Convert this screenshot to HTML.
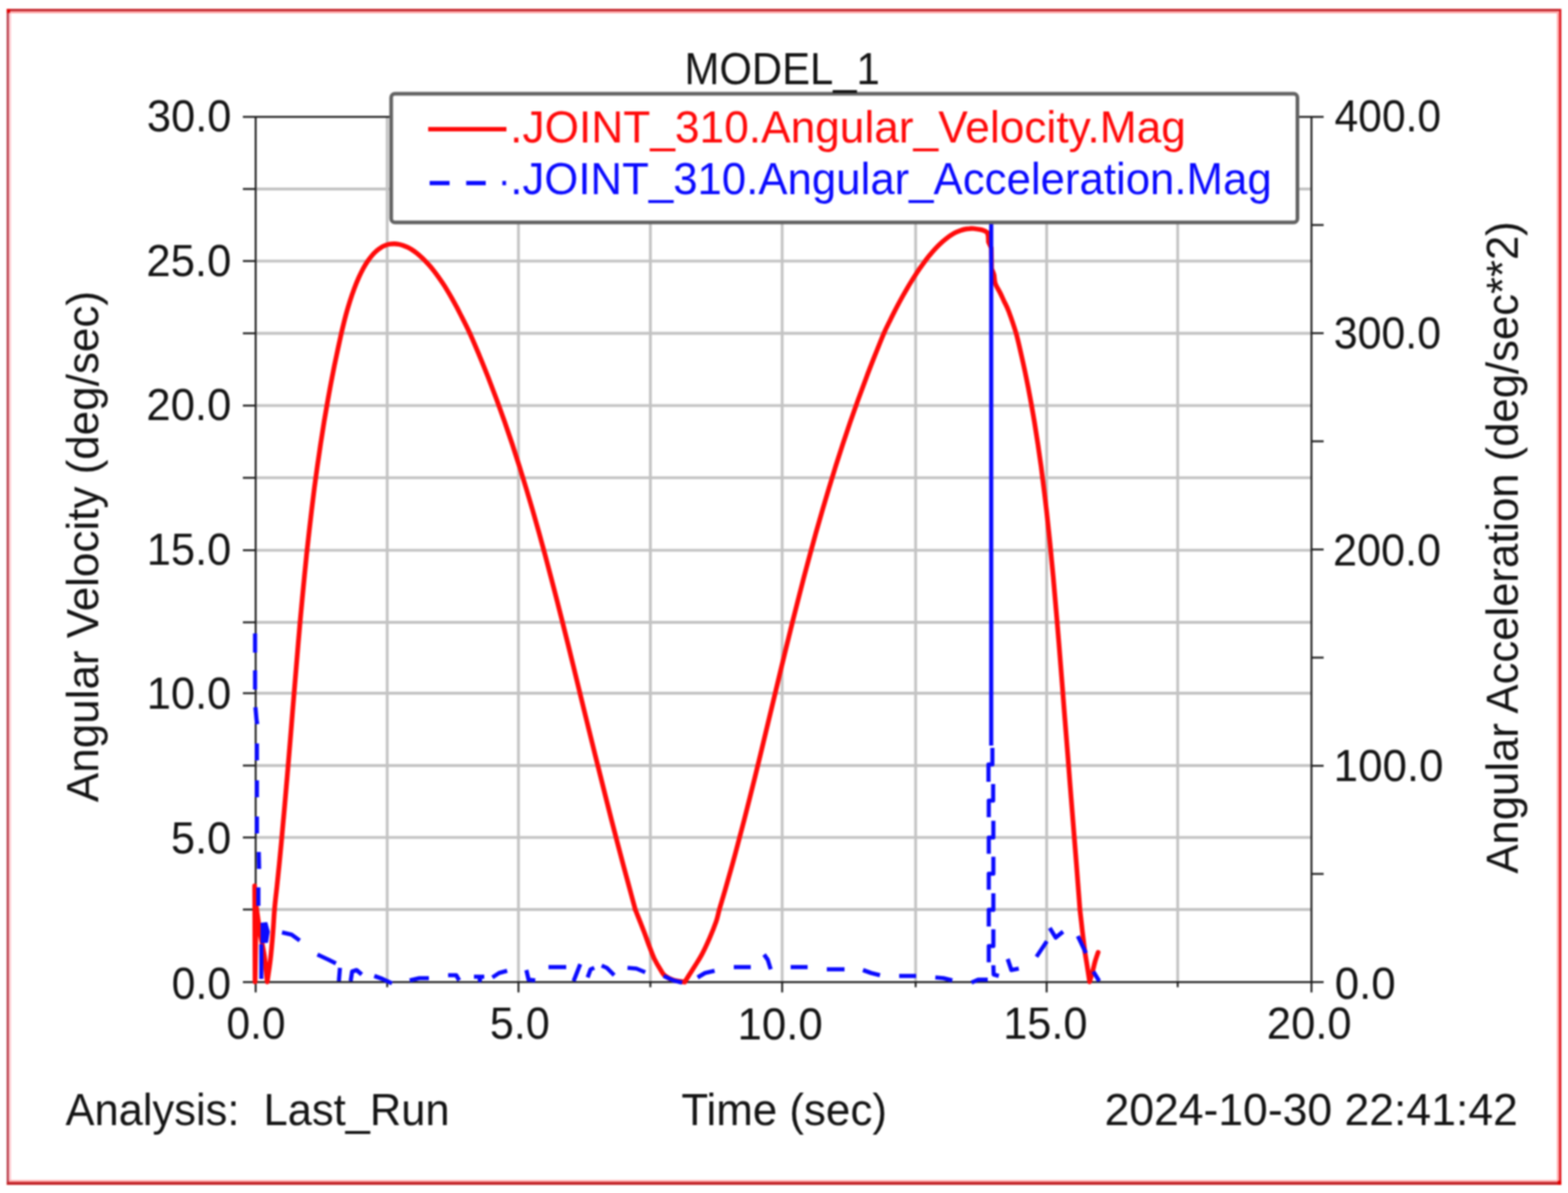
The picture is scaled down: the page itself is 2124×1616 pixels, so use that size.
<!DOCTYPE html>
<html><head><meta charset="utf-8"><title>MODEL_1</title><style>
html,body{margin:0;padding:0;background:#fff;width:2124px;height:1616px;overflow:hidden;}
svg{display:block;position:absolute;left:0;top:0;filter:blur(0.8px);}
text{font-family:"Liberation Sans",Arial,Helvetica,sans-serif;font-size:61px;white-space:pre;}
</style></head><body>
<svg width="2124" height="1616" viewBox="0 0 2124 1616">
<rect x="0" y="0" width="2124" height="1616" fill="#ffffff"/>
<g fill="none">
<line x1="9" y1="13.7" x2="2115" y2="13.7" stroke="#c22228" stroke-width="3.4"/>
<line x1="10.5" y1="12" x2="10.5" y2="1605" stroke="#bb4450" stroke-width="3"/>
<line x1="2113.5" y1="12" x2="2113.5" y2="1605" stroke="#de1820" stroke-width="3"/>
<line x1="9" y1="1603" x2="2115" y2="1603" stroke="#c2262a" stroke-width="4"/>
<line x1="12" y1="16.7" x2="2112" y2="16.7" stroke="#ffa8a8" stroke-width="2.6"/>
<line x1="13.5" y1="15.4" x2="13.5" y2="1601" stroke="#ffccd2" stroke-width="3"/>
<line x1="2110.5" y1="15.4" x2="2110.5" y2="1601" stroke="#ffa8a8" stroke-width="3"/>
<line x1="12" y1="1599.8" x2="2112" y2="1599.8" stroke="#ffa8a8" stroke-width="2.4"/>
</g>
<rect x="9" y="12" width="5" height="5.5" fill="#e00808"/>
<rect x="2110" y="1599.5" width="5" height="5.5" fill="#e80000"/>
<g stroke="#c3c3c3" stroke-width="3.8" fill="none">
<line x1="524.5" y1="158.3" x2="524.5" y2="1330.3"/>
<line x1="702.3" y1="158.3" x2="702.3" y2="1330.3"/>
<line x1="881.0" y1="158.3" x2="881.0" y2="1330.3"/>
<line x1="1059.5" y1="158.3" x2="1059.5" y2="1330.3"/>
<line x1="1240.3" y1="158.3" x2="1240.3" y2="1330.3"/>
<line x1="1417.8" y1="158.3" x2="1417.8" y2="1330.3"/>
<line x1="1595.3" y1="158.3" x2="1595.3" y2="1330.3"/>
<line x1="346.3" y1="256.0" x2="1776.5" y2="256.0"/>
<line x1="346.3" y1="353.6" x2="1776.5" y2="353.6"/>
<line x1="346.3" y1="451.5" x2="1776.5" y2="451.5"/>
<line x1="346.3" y1="549.4" x2="1776.5" y2="549.4"/>
<line x1="346.3" y1="647.2" x2="1776.5" y2="647.2"/>
<line x1="346.3" y1="745.3" x2="1776.5" y2="745.3"/>
<line x1="346.3" y1="843.0" x2="1776.5" y2="843.0"/>
<line x1="346.3" y1="939.0" x2="1776.5" y2="939.0"/>
<line x1="346.3" y1="1037.0" x2="1776.5" y2="1037.0"/>
<line x1="346.3" y1="1134.4" x2="1776.5" y2="1134.4"/>
<line x1="346.3" y1="1232.0" x2="1776.5" y2="1232.0"/>
</g>
<g stroke="#1e1e1e" stroke-width="2.6" fill="none" stroke-linecap="butt">
<rect x="346.3" y="158.3" width="1430.2" height="1172.0"/>
<line x1="329" y1="158.3" x2="346.3" y2="158.3"/>
<line x1="329" y1="256.0" x2="346.3" y2="256.0"/>
<line x1="329" y1="353.6" x2="346.3" y2="353.6"/>
<line x1="329" y1="451.5" x2="346.3" y2="451.5"/>
<line x1="329" y1="549.4" x2="346.3" y2="549.4"/>
<line x1="329" y1="647.2" x2="346.3" y2="647.2"/>
<line x1="329" y1="745.3" x2="346.3" y2="745.3"/>
<line x1="329" y1="843.0" x2="346.3" y2="843.0"/>
<line x1="329" y1="939.0" x2="346.3" y2="939.0"/>
<line x1="329" y1="1037.0" x2="346.3" y2="1037.0"/>
<line x1="329" y1="1134.4" x2="346.3" y2="1134.4"/>
<line x1="329" y1="1232.0" x2="346.3" y2="1232.0"/>
<line x1="329" y1="1330.3" x2="346.3" y2="1330.3"/>
<line x1="1776.5" y1="1330.3" x2="1793" y2="1330.3"/>
<line x1="1776.5" y1="1183.8" x2="1793" y2="1183.8"/>
<line x1="1776.5" y1="1037.3" x2="1793" y2="1037.3"/>
<line x1="1776.5" y1="890.8" x2="1793" y2="890.8"/>
<line x1="1776.5" y1="744.3" x2="1793" y2="744.3"/>
<line x1="1776.5" y1="597.8" x2="1793" y2="597.8"/>
<line x1="1776.5" y1="451.3" x2="1793" y2="451.3"/>
<line x1="1776.5" y1="304.8" x2="1793" y2="304.8"/>
<line x1="1776.5" y1="158.3" x2="1793" y2="158.3"/>
<line x1="346.3" y1="1330.3" x2="346.3" y2="1344.3"/>
<line x1="524.5" y1="1330.3" x2="524.5" y2="1337.3"/>
<line x1="702.3" y1="1330.3" x2="702.3" y2="1344.3"/>
<line x1="881.0" y1="1330.3" x2="881.0" y2="1337.3"/>
<line x1="1059.5" y1="1330.3" x2="1059.5" y2="1344.3"/>
<line x1="1240.3" y1="1330.3" x2="1240.3" y2="1337.3"/>
<line x1="1417.8" y1="1330.3" x2="1417.8" y2="1344.3"/>
<line x1="1595.3" y1="1330.3" x2="1595.3" y2="1337.3"/>
<line x1="1776.5" y1="1330.3" x2="1776.5" y2="1344.3"/>
</g>
<path d="M345.0,1200.0 C345.1,1221.7 345.4,1308.3 345.5,1330.0 C345.8,1313.0 346.9,1245.0 347.2,1228.0 C348.0,1233.7 350.2,1251.0 352.0,1262.0 C353.8,1273.0 356.3,1282.7 358.0,1294.0 C359.7,1305.3 361.3,1324.0 362.0,1330.0 C362.8,1324.7 365.2,1309.3 366.5,1298.0 C367.8,1286.7 368.9,1273.1 369.8,1262.0 C370.7,1250.9 371.0,1241.5 371.9,1231.4 C372.7,1221.3 374.0,1211.4 375.1,1201.4 C376.1,1191.4 377.2,1181.4 378.2,1171.4 C379.2,1161.4 380.1,1151.4 381.1,1141.4 C382.0,1131.4 382.9,1121.4 383.8,1111.4 C384.8,1101.4 385.6,1091.4 386.5,1081.4 C387.4,1071.4 388.2,1061.4 389.1,1051.4 C389.9,1041.4 390.8,1031.4 391.6,1021.4 C392.4,1011.4 393.3,1001.4 394.1,991.4 C394.9,981.4 395.7,971.4 396.5,961.4 C397.3,951.4 398.2,941.4 399.0,931.4 C399.8,921.4 400.6,911.4 401.5,901.4 C402.3,891.4 403.2,881.4 404.0,871.4 C404.9,861.4 405.8,851.4 406.6,841.4 C407.5,831.4 408.5,821.4 409.4,811.4 C410.3,801.4 411.3,791.4 412.3,781.4 C413.3,771.4 414.3,761.4 415.3,751.4 C416.4,741.4 417.5,731.4 418.6,721.4 C419.7,711.4 420.9,701.4 422.1,691.4 C423.3,681.4 424.5,671.4 425.8,661.4 C427.1,651.4 428.5,641.4 429.9,631.4 C431.3,621.4 432.8,611.4 434.3,601.4 C435.8,591.4 437.4,581.4 439.0,571.4 C440.7,561.4 442.4,551.4 444.2,541.4 C446.0,531.4 447.8,521.4 449.8,511.4 C451.7,501.4 453.7,491.4 455.9,481.4 C458.0,471.4 460.4,460.2 462.4,451.4 C464.5,442.6 466.1,435.8 468.0,428.6 C469.9,421.3 472.0,414.4 474.0,408.0 C476.0,401.7 478.0,395.9 480.0,390.6 C482.0,385.2 484.0,380.4 486.0,375.9 C488.0,371.5 490.0,367.5 492.0,363.8 C494.0,360.1 496.0,356.8 498.0,353.9 C500.0,350.9 502.0,348.3 504.0,346.0 C506.0,343.6 508.0,341.6 510.0,339.9 C512.0,338.1 514.0,336.6 516.0,335.4 C518.0,334.1 520.0,333.2 522.0,332.4 C524.0,331.6 526.0,331.0 528.0,330.7 C530.0,330.3 532.0,330.2 534.0,330.2 C536.0,330.2 538.0,330.4 540.0,330.8 C542.0,331.1 544.0,331.7 546.0,332.4 C548.0,333.1 550.0,333.9 552.0,334.9 C554.0,335.9 556.0,337.0 558.0,338.3 C560.0,339.6 562.0,341.0 564.0,342.5 C566.0,344.1 568.0,345.8 570.0,347.6 C572.0,349.4 574.0,351.3 576.0,353.4 C578.0,355.4 580.0,357.6 582.0,359.9 C584.0,362.2 586.0,364.7 588.0,367.2 C590.0,369.8 592.0,372.5 594.0,375.3 C596.0,378.1 598.0,381.0 600.0,384.1 C602.0,387.1 604.0,390.3 606.0,393.6 C608.0,396.9 610.0,400.3 612.0,403.8 C614.0,407.3 616.0,411.0 618.0,414.8 C620.0,418.5 620.9,420.3 624.0,426.4 C627.1,432.5 632.2,442.2 636.4,451.4 C640.6,460.6 645.1,471.4 649.3,481.4 C653.5,491.4 657.5,501.4 661.4,511.4 C665.3,521.4 669.1,531.4 672.8,541.4 C676.5,551.4 680.1,561.4 683.6,571.4 C687.1,581.4 690.5,591.4 693.8,601.4 C697.1,611.4 700.3,621.4 703.5,631.4 C706.6,641.4 709.7,651.4 712.7,661.4 C715.7,671.4 718.7,681.4 721.6,691.4 C724.5,701.4 727.3,711.4 730.1,721.4 C732.8,731.4 735.6,741.4 738.3,751.4 C741.0,761.4 743.6,771.4 746.2,781.4 C748.8,791.4 751.4,801.4 754.0,811.4 C756.5,821.4 759.1,831.4 761.6,841.4 C764.1,851.4 766.6,861.4 769.1,871.4 C771.5,881.4 774.0,891.4 776.5,901.4 C778.9,911.4 781.4,921.4 783.8,931.4 C786.3,941.4 788.7,951.4 791.1,961.4 C793.6,971.4 796.0,981.4 798.5,991.4 C801.0,1001.4 803.4,1011.4 805.9,1021.4 C808.4,1031.4 810.9,1041.4 813.4,1051.4 C815.9,1061.4 818.4,1071.4 820.9,1081.4 C823.4,1091.4 826.0,1101.4 828.5,1111.4 C831.1,1121.4 833.7,1131.4 836.3,1141.4 C838.9,1151.4 841.6,1161.4 844.2,1171.4 C846.9,1181.4 849.6,1191.4 852.3,1201.4 C855.0,1211.4 859.0,1226.3 860.4,1231.4 C861.8,1236.5 858.6,1226.9 860.6,1232.1 C862.7,1237.3 869.4,1254.3 872.6,1262.7 C875.8,1271.1 877.4,1276.2 879.7,1282.2 C882.0,1288.2 883.7,1293.2 886.2,1298.5 C888.8,1303.8 892.6,1310.2 895.0,1314.0 C897.4,1317.8 897.7,1319.2 900.5,1321.5 C903.3,1323.8 907.5,1326.0 912.0,1327.5 C916.5,1329.0 924.9,1329.8 927.5,1330.3 C928.4,1328.8 930.7,1325.2 933.0,1321.5 C935.3,1317.8 938.5,1313.1 941.5,1308.2 C944.5,1303.3 948.0,1298.2 951.2,1292.0 C954.5,1285.8 957.8,1278.5 961.0,1271.2 C964.2,1263.9 967.9,1254.6 970.2,1248.0 C972.5,1241.4 972.3,1239.5 974.5,1231.8 C976.7,1224.1 980.5,1211.8 983.3,1201.8 C986.2,1191.8 989.0,1181.8 991.8,1171.8 C994.6,1161.8 997.3,1151.8 999.9,1141.8 C1002.6,1131.8 1005.2,1121.8 1007.8,1111.8 C1010.4,1101.8 1012.9,1091.8 1015.4,1081.8 C1017.9,1071.8 1020.4,1061.8 1022.9,1051.8 C1025.3,1041.8 1027.8,1031.8 1030.2,1021.8 C1032.6,1011.8 1035.0,1001.8 1037.4,991.8 C1039.8,981.8 1042.2,971.8 1044.6,961.8 C1047.0,951.8 1049.4,941.8 1051.8,931.8 C1054.2,921.8 1056.6,911.8 1059.0,901.8 C1061.4,891.8 1063.9,881.8 1066.3,871.8 C1068.8,861.8 1071.2,851.8 1073.7,841.8 C1076.2,831.8 1078.7,821.8 1081.3,811.8 C1083.8,801.8 1086.4,791.8 1089.0,781.8 C1091.6,771.8 1094.3,761.8 1097.0,751.8 C1099.7,741.8 1102.4,731.8 1105.2,721.8 C1108.0,711.8 1110.9,701.8 1113.8,691.8 C1116.7,681.8 1119.7,671.8 1122.7,661.8 C1125.7,651.8 1128.8,641.8 1131.9,631.8 C1135.1,621.8 1138.3,611.8 1141.6,601.8 C1144.9,591.8 1148.3,581.8 1151.7,571.8 C1155.2,561.8 1158.7,551.8 1162.3,541.8 C1165.9,531.8 1169.6,521.8 1173.4,511.8 C1177.1,501.8 1181.0,491.9 1185.0,481.8 C1189.0,471.7 1194.0,459.1 1197.3,451.4 C1200.7,443.7 1202.7,440.1 1205.0,435.4 C1207.3,430.7 1209.0,427.2 1211.0,423.3 C1213.0,419.4 1215.0,415.5 1217.0,411.8 C1219.0,408.0 1221.0,404.4 1223.0,400.8 C1225.0,397.2 1227.0,393.7 1229.0,390.3 C1231.0,386.9 1233.0,383.6 1235.0,380.4 C1237.0,377.1 1239.0,374.0 1241.0,370.9 C1243.0,367.9 1245.0,364.9 1247.0,362.1 C1249.0,359.2 1251.0,356.5 1253.0,353.8 C1255.0,351.2 1257.0,348.6 1259.0,346.1 C1261.0,343.7 1263.0,341.3 1265.0,339.1 C1267.0,336.9 1269.0,334.8 1271.0,332.8 C1273.0,330.8 1275.0,328.9 1277.0,327.1 C1279.0,325.4 1281.0,323.7 1283.0,322.2 C1285.0,320.7 1287.0,319.3 1289.0,318.1 C1291.0,316.8 1293.0,315.7 1295.0,314.7 C1297.0,313.8 1299.0,312.9 1301.0,312.2 C1303.0,311.5 1305.0,310.9 1307.0,310.5 C1309.0,310.1 1311.0,309.8 1313.0,309.7 C1315.0,309.5 1317.0,309.5 1319.0,309.6 C1321.0,309.8 1322.8,310.0 1325.0,310.5 C1327.2,310.9 1330.4,311.4 1332.5,312.2 C1334.6,313.0 1336.7,314.5 1337.5,315.0 C1337.7,315.8 1338.3,317.8 1338.6,320.0 C1338.8,322.2 1338.9,326.7 1339.0,328.0 C1339.6,329.3 1342.2,334.7 1342.8,336.0 C1342.9,340.7 1343.1,359.3 1343.2,364.0 C1343.7,365.3 1345.6,368.7 1346.4,372.0 C1347.2,375.3 1346.8,379.9 1348.2,384.0 C1349.6,388.1 1352.8,392.6 1354.7,396.5 C1356.7,400.4 1357.9,403.4 1359.9,407.6 C1361.9,411.9 1363.8,414.7 1366.5,422.0 C1369.2,429.3 1373.5,441.5 1376.4,451.4 C1379.2,461.3 1381.3,471.4 1383.6,481.4 C1385.9,491.4 1388.1,501.4 1390.1,511.4 C1392.2,521.4 1394.1,531.4 1395.9,541.4 C1397.8,551.4 1399.5,561.4 1401.2,571.4 C1402.8,581.4 1404.4,591.4 1405.9,601.4 C1407.4,611.4 1408.8,621.4 1410.2,631.4 C1411.5,641.4 1412.8,651.4 1414.0,661.4 C1415.3,671.4 1416.4,681.4 1417.6,691.4 C1418.7,701.4 1419.8,711.4 1420.8,721.4 C1421.9,731.4 1422.9,741.4 1423.8,751.4 C1424.8,761.4 1425.7,771.4 1426.7,781.4 C1427.6,791.4 1428.5,801.4 1429.3,811.4 C1430.2,821.4 1431.1,831.4 1431.9,841.4 C1432.7,851.4 1433.6,861.4 1434.4,871.4 C1435.2,881.4 1436.0,891.4 1436.8,901.4 C1437.6,911.4 1438.4,921.4 1439.2,931.4 C1440.0,941.4 1440.7,951.4 1441.5,961.4 C1442.3,971.4 1443.1,981.4 1443.9,991.4 C1444.7,1001.4 1445.5,1011.4 1446.3,1021.4 C1447.0,1031.4 1447.8,1041.4 1448.6,1051.4 C1449.4,1061.4 1450.2,1071.4 1451.0,1081.4 C1451.8,1091.4 1452.6,1101.4 1453.4,1111.4 C1454.2,1121.4 1455.0,1131.4 1455.8,1141.4 C1456.6,1151.4 1457.4,1161.4 1458.2,1171.4 C1458.9,1181.4 1459.7,1191.4 1460.5,1201.4 C1461.3,1211.4 1462.4,1226.3 1462.8,1231.4 C1463.2,1236.5 1462.3,1227.0 1462.8,1231.8 C1463.4,1236.6 1465.0,1251.1 1466.0,1260.0 C1467.0,1268.9 1468.0,1277.3 1469.0,1285.0 C1470.0,1292.7 1471.1,1298.5 1472.3,1306.0 C1473.5,1313.5 1475.4,1326.0 1476.0,1330.0 C1476.8,1327.3 1479.2,1318.7 1480.5,1314.0 C1481.8,1309.3 1482.3,1306.0 1483.5,1302.0 C1484.7,1298.0 1486.8,1292.0 1487.5,1290.0" fill="none" stroke="#ff0a0a" stroke-width="6.4" stroke-linejoin="round" stroke-linecap="round"/>
<g fill="none" stroke="#0a0aff" stroke-width="5.6" stroke-linejoin="round" stroke-linecap="butt">
<polyline points="345.5,858.0 345.5,884.0"/>
<polyline points="345.5,908.0 345.5,934.0"/>
<polyline points="346.0,958.0 347.5,975.0 348.5,981.0"/>
<polyline points="348.0,1007.0 348.0,1030.0"/>
<polyline points="348.0,1057.0 348.0,1080.0"/>
<polyline points="348.0,1106.0 348.0,1129.0"/>
<polyline points="350.5,1154.0 351.0,1177.0"/>
<polyline points="350.0,1202.0 350.0,1227.0"/>
<polyline points="354.0,1279.0 354.0,1326.0"/>
<polyline points="382.0,1263.0 395.0,1266.0 406.0,1274.0"/>
<polyline points="430.0,1293.0 445.0,1300.0 455.0,1305.0"/>
<polyline points="459.0,1329.0 460.5,1311.0"/>
<polyline points="475.0,1329.0 477.0,1316.0 483.0,1314.0 490.0,1320.0"/>
<polyline points="507.0,1322.0 518.0,1326.0 531.0,1332.0"/>
<polyline points="555.0,1328.0 568.0,1325.0 581.0,1325.0"/>
<polyline points="607.0,1321.0 618.0,1321.0 622.0,1328.0"/>
<polyline points="642.0,1323.0 649.0,1323.0 650.0,1328.0 651.0,1323.0 656.0,1323.0"/>
<polyline points="667.0,1324.0 676.0,1318.0 687.0,1315.0"/>
<polyline points="713.0,1314.0 716.0,1327.0 725.0,1328.0"/>
<polyline points="743.0,1310.0 767.0,1310.0"/>
<polyline points="777.0,1329.0 786.0,1306.0"/>
<polyline points="796.0,1324.0 800.0,1313.0 805.0,1311.0"/>
<polyline points="815.0,1308.0 822.0,1311.0 832.0,1321.0"/>
<polyline points="850.0,1311.0 862.0,1312.0 874.0,1317.0"/>
<polyline points="899.0,1322.0 912.0,1328.0 924.0,1331.0"/>
<polyline points="945.0,1324.0 955.0,1318.0 968.0,1315.0"/>
<polyline points="994.0,1310.0 1017.0,1310.0"/>
<polyline points="1035.0,1293.0 1040.0,1300.0 1044.0,1313.0"/>
<polyline points="1071.0,1310.0 1094.0,1310.0"/>
<polyline points="1120.0,1313.0 1144.0,1313.0"/>
<polyline points="1169.0,1314.0 1180.0,1318.0 1192.0,1321.0"/>
<polyline points="1218.0,1322.0 1241.0,1322.0"/>
<polyline points="1267.0,1324.0 1278.0,1325.0 1290.0,1328.0"/>
<polyline points="1316.0,1331.0 1325.0,1327.0 1338.0,1327.0"/>
<polyline points="1344.3,1013.0 1344.3,1035.5 1339.0,1035.5 1339.0,1059.0"/>
<polyline points="1345.3,1062.0 1345.3,1084.5 1339.4,1084.5 1339.4,1107.0"/>
<polyline points="1345.6,1111.7 1345.6,1134.5 1339.4,1134.5 1339.4,1156.6"/>
<polyline points="1345.6,1160.4 1345.6,1183.5 1339.4,1183.5 1339.4,1205.3"/>
<polyline points="1345.6,1210.0 1345.6,1232.4 1339.4,1232.4 1339.4,1254.9"/>
<polyline points="1345.6,1258.7 1345.6,1281.5 1339.4,1281.5 1339.4,1303.6"/>
<polyline points="1345.6,1307.5 1346.0,1320.0 1353.0,1322.0"/>
<polyline points="1365.0,1299.0 1370.0,1314.0 1380.0,1312.0"/>
<polyline points="1404.0,1296.0 1418.0,1275.0"/>
<polyline points="1422.0,1257.0 1430.0,1270.0 1440.0,1262.0"/>
<polyline points="1460.0,1268.0 1471.0,1291.0"/>
<polyline points="1481.0,1316.0 1489.0,1329.0"/>
<polygon points="353,1250 362,1249 365.5,1262 363,1277 353,1278" fill="#0a0aff" stroke="none"/>
<line x1="1342.7" y1="1010" x2="1342.7" y2="303"/>
</g>
<rect x="529.9" y="127.1" width="1227.6" height="174.2" rx="5" ry="5" fill="#ffffff" stroke="#626262" stroke-width="5"/>
<line x1="580" y1="175" x2="686" y2="175" stroke="#ff0a0a" stroke-width="5.8"/>
<g stroke="#0a0aff" stroke-width="5.8"><line x1="582" y1="248" x2="609" y2="248"/><line x1="631.5" y1="248" x2="658" y2="248"/><line x1="680.5" y1="248" x2="685.5" y2="248"/></g>
<text transform="translate(927.36,113.8) scale(0.9289,1)" fill="#141414">MODEL_1</text>
<text transform="translate(691.1,192.5) scale(0.983,1)" fill="#ff0a0a">.JOINT_310.Angular_Velocity.Mag</text>
<text transform="translate(691.17,263.3) scale(0.9722,1)" fill="#0a0aff">.JOINT_310.Angular_Acceleration.Mag</text>
<text transform="translate(199.07,177.9) scale(0.9632,1)" fill="#141414">30.0</text>
<text transform="translate(198.29,374.0) scale(0.969,1)" fill="#141414">25.0</text>
<text transform="translate(198.29,568.7) scale(0.969,1)" fill="#141414">20.0</text>
<text transform="translate(198.78,764.7) scale(0.9649,1)" fill="#141414">15.0</text>
<text transform="translate(198.78,960.3) scale(0.9649,1)" fill="#141414">10.0</text>
<text transform="translate(231.41,1156.4) scale(0.9646,1)" fill="#141414">5.0</text>
<text transform="translate(232.5,1352.7) scale(0.95,1)" fill="#141414">0.0</text>
<text transform="translate(1807.75,178.2) scale(0.9463,1)" fill="#141414">400.0</text>
<text transform="translate(1806.7,471.6) scale(0.952,1)" fill="#141414">300.0</text>
<text transform="translate(1805.72,766.0) scale(0.9585,1)" fill="#141414">200.0</text>
<text transform="translate(1806.62,1058.0) scale(0.975,1)" fill="#141414">100.0</text>
<text transform="translate(1807.95,1352.5) scale(0.975,1)" fill="#141414">0.0</text>
<text transform="translate(306.81,1407.2) scale(0.945,1)" fill="#141414">0.0</text>
<text transform="translate(663.43,1407.4) scale(0.9582,1)" fill="#141414">5.0</text>
<text transform="translate(999.04,1407.6) scale(0.973,1)" fill="#141414">10.0</text>
<text transform="translate(1358.89,1407.4) scale(0.9622,1)" fill="#141414">15.0</text>
<text transform="translate(1716.1,1407.4) scale(0.9673,1)" fill="#141414">20.0</text>
<text transform="translate(88.7,1523.7) scale(0.9656,1)" fill="#141414">Analysis:&#160; Last_Run</text>
<text transform="translate(922.93,1523.5) scale(0.9747,1)" fill="#141414">Time (sec)</text>
<text transform="translate(1496.13,1523.7) scale(0.9886,1)" fill="#141414">2024-10-30 22:41:42</text>
<text transform="translate(133.4,1086.5) rotate(-90) scale(0.977,1)" fill="#141414">Angular Velocity (deg/sec)</text>
<text transform="translate(2055.6,1183.3) rotate(-90) scale(0.9687,1)" fill="#141414">Angular Acceleration (deg/sec**2)</text>
</svg>
</body></html>
